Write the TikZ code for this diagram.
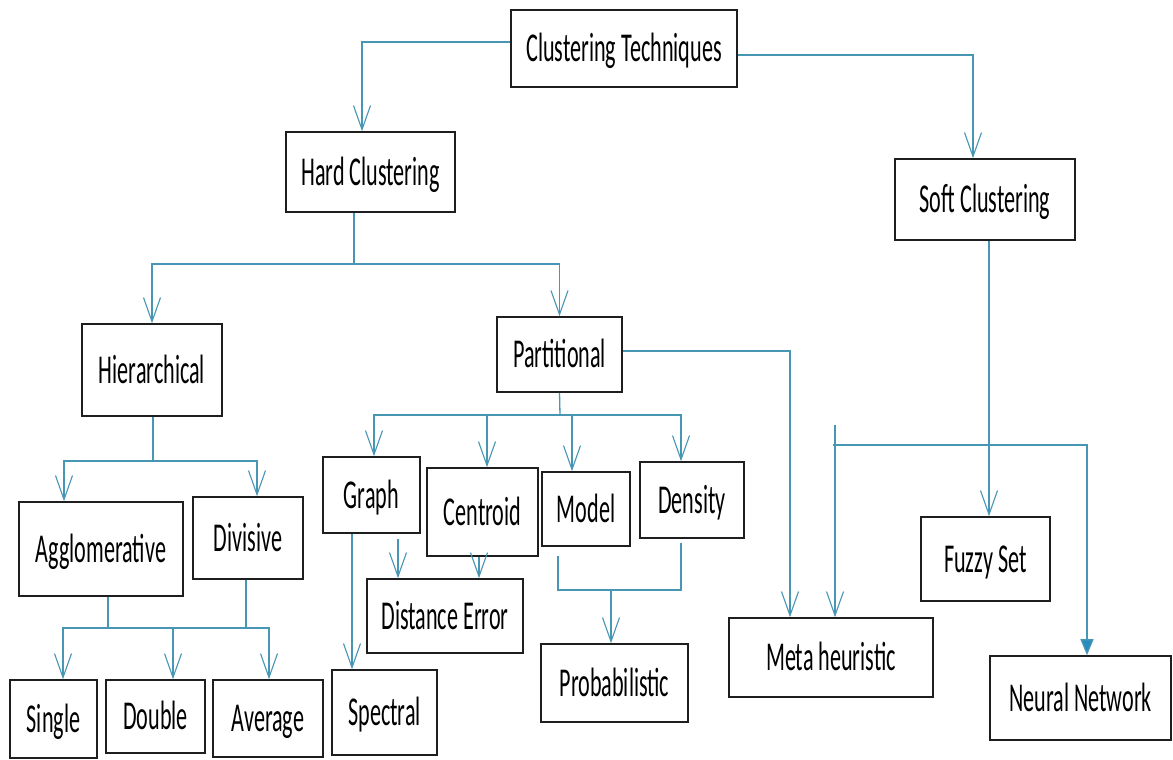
\documentclass[tikz,border=0pt]{standalone}
\usepackage{fontspec}
\newfontfamily\lbl{Carlito}[FakeStretch=0.54]
\usetikzlibrary{arrows.meta,calc}
\definecolor{lnk}{RGB}{70,150,180}
\definecolor{lnkfill}{RGB}{40,140,190}
\definecolor{boxline}{RGB}{30,30,30}
\begin{document}
\begin{tikzpicture}[x=1pt,y=-1pt,
  box/.style={draw=boxline,line width=1.6pt,fill=white,inner sep=0pt,
    font=\lbl\fontsize{41}{45}\selectfont,text height=26pt,text depth=0pt,align=center},
  conn/.style={draw=lnk,line width=1.3pt},
  arr/.style={conn,-{Straight Barb[length=24pt,width=17pt,line width=1.1pt]}},
  farr/.style={conn,-{Triangle[length=16pt,width=13pt,fill=lnkfill]}}
]
\useasboundingbox[fill=white] (0,0) rectangle (1173,760);

% nodes
\node[box,minimum width=226pt,minimum height=77pt] (ct) at (624,48.5) {Clustering Techniques};
\node[box,minimum width=169pt,minimum height=80pt] (hard) at (370.5,172) {Hard Clustering};
\node[box,minimum width=180pt,minimum height=81pt] (soft) at (985,199.5) {Soft Clustering};
\node[box,minimum width=140pt,minimum height=92pt] (hier) at (152,370) {Hierarchical};
\node[box,minimum width=125pt,minimum height=75pt] (part) at (559.5,354.5) {Partitional};
\node[box,minimum width=164pt,minimum height=94pt] (aggl) at (101,549) {Agglomerative};
\node[box,minimum width=110pt,minimum height=82pt] (divi) at (248,538) {Divisive};
\node[box,minimum width=87pt,minimum height=78pt] (single) at (53.5,719) {Single};
\node[box,minimum width=99pt,minimum height=73pt] (double) at (155.5,716.5) {Double};
\node[box,minimum width=110pt,minimum height=77pt] (average) at (268,718.5) {Average};
\node[box,minimum width=97pt,minimum height=76pt] (graph) at (371.5,495) {Graph};
\node[box,minimum width=111pt,minimum height=88pt] (centroid) at (482.5,512) {Centroid};
\node[box,minimum width=88pt,minimum height=74pt] (model) at (586,509) {Model};
\node[box,minimum width=104pt,minimum height=76pt] (density) at (692,500) {Density};
\node[box,minimum width=156pt,minimum height=74pt] (dist) at (445,616) {Distance Error};
\node[box,minimum width=105pt,minimum height=85pt] (spectral) at (384.5,712.5) {Spectral};
\node[box,minimum width=147pt,minimum height=78pt] (prob) at (614.5,683) {Probabilistic};
\node[box,minimum width=204pt,minimum height=79pt] (meta) at (831,657.5) {Meta heuristic};
\node[box,minimum width=129pt,minimum height=84pt] (fuzzy) at (985.5,559) {Fuzzy Set};
\node[box,minimum width=181pt,minimum height=84pt] (nn) at (1080.5,698) {Neural Network};

% junction coordinates
\coordinate (hj) at (354,264);
\coordinate (hij) at (153,461);
\coordinate (aj) at (108,628);
\coordinate (dj) at (246,628);
\coordinate (dbj) at (173,628);
\coordinate (pj) at (560,415);
\coordinate (cj) at (487,415);
\coordinate (mdj) at (572,415);
\coordinate (sj) at (989,445);
\coordinate (mj) at (833,445);
\coordinate (mt) at (835,425);
\coordinate (pbl) at (558,590);
\coordinate (pbr) at (681,590);
\coordinate (pbj) at (611,590);

% top level
\draw[arr] ([yshift=6.5pt]ct.west) -| ([xshift=-8.5pt]hard.north);
\draw[arr] ([yshift=-6.5pt]ct.east) -| ([xshift=-12pt]soft.north);

% hard clustering
\draw[conn] ([xshift=-16.5pt]hard.south) -- (hj);
\draw[arr] (hj) -| (hier.north);
\draw[arr] (hj) -| (part.north);

% hierarchical
\draw[conn] ([xshift=1pt]hier.south) -- (hij);
\draw[arr] (hij) -| ([xshift=-37pt]aggl.north);
\draw[arr] (hij) -| ([xshift=9pt]divi.north);

% agglomerative / divisive
\draw[conn] ([xshift=7pt]aggl.south) -- (aj);
\draw[conn] ([xshift=-2pt]divi.south) -- (dj);
\draw[arr] (aj) -| ([xshift=9.5pt]single.north);
\draw[arr] (aj) -| ([xshift=1pt]average.north);
\draw[arr] (dbj) -- ([xshift=17.5pt]double.north);

% partitional
\draw[conn] (part.south) -- (pj);
\draw[arr] (pj) -| ([xshift=2.5pt]graph.north);
\draw[arr] (pj) -| ([xshift=-11pt]density.north);
\draw[arr] (cj) -- ([xshift=4.5pt]centroid.north);
\draw[arr] (mdj) -- ([xshift=-14pt]model.north);
\draw[arr] ([yshift=3.5pt]part.east) -| ([xshift=-41pt]meta.north);

% graph / centroid
\draw[arr] ([xshift=-19.5pt]graph.south) -- ([xshift=-32.5pt]spectral.north);
\draw[arr] ([xshift=26.5pt,yshift=-5pt]graph.south) -- ([xshift=-47pt]dist.north);
\draw[arr] ([xshift=-3.5pt]centroid.south) -- ([xshift=34pt]dist.north);

% model / density
\draw[conn] ([xshift=-28pt,yshift=-9pt]model.south) -- (pbl) -- (pbr) -- ([xshift=-11pt,yshift=-4pt]density.south);
\draw[arr] (pbj) -- ([xshift=-3.5pt]prob.north);

% soft clustering
\draw[arr] ([xshift=4pt]soft.south) -- ([xshift=3.5pt]fuzzy.north);
\draw[conn] (sj) -- (mj);
\draw[arr] (mt) -- ([xshift=4pt]meta.north);
\draw[farr] (sj) -| ([xshift=6.5pt]nn.north);
\end{tikzpicture}
\end{document}
